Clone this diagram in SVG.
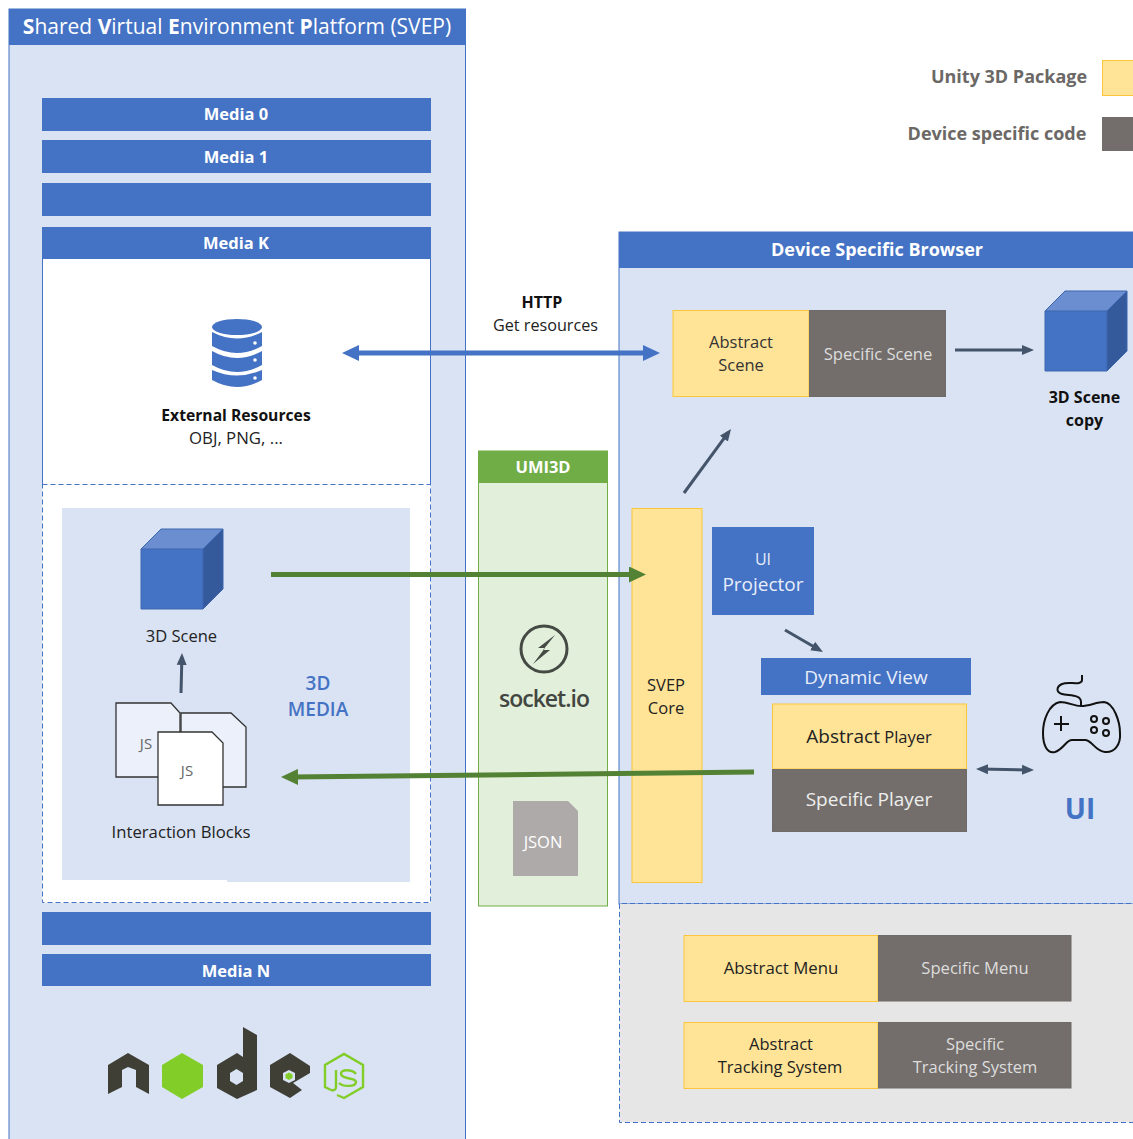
<svg xmlns="http://www.w3.org/2000/svg" width="1133" height="1139" viewBox="0 0 1133 1139">
<defs>
<style>
text{font-family:"Open Sans","Noto Sans","Liberation Sans",sans-serif;text-anchor:middle}
.w{fill:#fff}.d{fill:#222}.b{font-weight:700}.g{fill:#d9e3f3}
.blue{fill:#4472c4}.yel{fill:#ffe497;stroke:#fcc63a;stroke-width:1}.gry{fill:#736e6b;stroke:#6f6b68;stroke-width:1}
.dk{stroke:#44546a;stroke-width:3;fill:none}.gr{stroke:#548235;stroke-width:5;fill:none}
.doc{stroke:#333;stroke-width:1.3}
.dash{stroke:#4472c4;stroke-dasharray:5 3;fill:none}
</style>
<marker id="ad" markerUnits="userSpaceOnUse" markerWidth="14" markerHeight="12" refX="8" refY="6" orient="auto-start-reverse"><path d="M0 1L12 6L0 11Z" fill="#44546a"/></marker>
<marker id="ab" markerUnits="userSpaceOnUse" markerWidth="18" markerHeight="16" refX="7" refY="8" orient="auto-start-reverse"><path d="M0 0L17 8L0 16Z" fill="#4472c4"/></marker>
<marker id="ag" markerUnits="userSpaceOnUse" markerWidth="18" markerHeight="16" refX="7" refY="8" orient="auto-start-reverse"><path d="M0 0L17 8L0 16Z" fill="#548235"/></marker>
<g id="cube"><path d="M0 20L20 0H82V60L62 80H0Z" fill="#4472c4"/><path d="M0 20L20 0H82L62 20Z" fill="#6a8ecf"/><path d="M62 20L82 0V60L62 80Z" fill="#345a9c"/><path d="M0 20L20 0H82V60L62 80H0ZM0 20H62V80M62 20L82 0" fill="none" stroke="#3c66b0" stroke-width="1"/></g>
</defs>
<rect width="1133" height="1139" fill="#fff"/>

<g id="svep">
<rect x="9" y="9" width="456.500" height="1140" class="g" stroke="#4472c4"/>
<rect x="9" y="9" width="456.500" height="36" class="blue"/>
<text x="237" y="34" class="w" font-size="21">
<tspan font-weight="700">S</tspan>hared <tspan font-weight="700">V</tspan>irtual <tspan font-weight="700">E</tspan>nvironment <tspan font-weight="700">P</tspan>latform (SVEP)</text>
</g>
<g id="media-0"><rect x="42" y="98" width="389" height="33" class="blue"/><text x="236" y="120" class="w b" font-size="16.500">Media 0</text></g>
<g id="media-1"><rect x="42" y="140" width="389" height="33" class="blue"/><text x="236" y="163" class="w b" font-size="16.500">Media 1</text></g>
<g id="media-blank-1"><rect x="42" y="183" width="389" height="33" class="blue"/></g>
<g id="media-k">
<rect x="42" y="227" width="389" height="676" fill="#fff"/>
<path d="M42.500 259V484.500M430.500 259V484.500" stroke="#4472c4" fill="none"/>
<rect x="42" y="227" width="389" height="32" class="blue"/>
<text x="236" y="249" class="w b" font-size="16.500">Media K</text>
<path d="M42.500 484.500H430.500V902.500H42.500Z" class="dash"/>
</g>
<g id="external-resources">
<ellipse cx="237" cy="327" rx="25" ry="8" class="blue"/>
<path d="M212 332Q237 345 262 332V346Q237 360 212 346Z" class="blue"/>
<path d="M212 351Q237 365 262 351V365Q237 379 212 365Z" class="blue"/>
<path d="M212 370Q237 381 262 370V380Q237 394 212 380Z" class="blue"/>
<circle cx="255" cy="343" r="1.800" fill="#fff"/><circle cx="255" cy="360" r="1.800" fill="#fff"/><circle cx="255" cy="378" r="1.800" fill="#fff"/>
<text x="236" y="421" class="b" fill="#111" font-size="15.700">External Resources</text>
<text x="236" y="444" class="d" font-size="16.800">OBJ, PNG, ...</text>
</g>
<g id="media-3d">
<path d="M62 508H410V882H227V880H62Z" class="g"/>
<use href="#cube" x="141" y="529"/>
<text x="181.500" y="642" class="d" font-size="16.500">3D Scene</text>
<text x="318" y="690" fill="#4472c4" font-size="19" font-weight="600">3D</text>
<text x="318" y="716" fill="#4472c4" font-size="19" font-weight="600">MEDIA</text>
</g>
<g id="interaction-blocks">
<path d="M181 713H231L246 727V787H181Z" fill="#ebf0fa" class="doc"/>
<path d="M116 703H171L180 713V777H116Z" fill="#ebf0fa" class="doc"/>
<text x="146" y="749" fill="#666" font-size="15">JS</text>
<path d="M158 732H212L223 743V805H158Z" fill="#fff" class="doc"/>
<text x="187" y="776" fill="#666" font-size="15">JS</text>
<text x="181" y="838" class="d" font-size="16.700">Interaction Blocks</text>
</g>
<g id="media-blank-2"><rect x="42" y="912" width="389" height="33" class="blue"/></g>
<g id="media-n"><rect x="42" y="954" width="389" height="32" class="blue"/><text x="236" y="977" class="w b" font-size="16.500">Media N</text></g>
<g id="nodejs-logo">
<path d="M128 1053L108 1065V1094L122 1087V1070L128 1067L136 1070V1087L149 1094V1065Z" fill="#3f3f36"/>
<path d="M162 1065L182 1053L203 1065V1087L182 1099L162 1087Z" fill="#83cd29"/>
<path d="M243 1027L257 1035V1090L237 1099L217 1088V1065L237 1053L243 1057ZM236.500 1069L230 1073V1081L236.500 1085L243 1081V1073Z" fill="#3f3f36" fill-rule="evenodd"/>
<path d="M270 1065L290 1053L310 1066V1073L293 1083L302 1090L290 1098L270 1087Z" fill="#3f3f36"/>
<path d="M289 1070L295 1073V1080L289 1083L283 1080V1073Z" fill="#d9e3f3"/>
<path d="M289 1072.500L292.500 1074.500V1078L289 1080L285.500 1078V1074.500Z" fill="#83cd29"/>
<path d="M337 1095L344 1098L363 1087V1065L344 1054L325 1065V1087L331 1090" fill="none" stroke="#83cd29" stroke-width="2.400"/>
<path d="M336 1070V1087Q336 1091 331 1090M356 1074C352 1069 340 1069 341 1074C342 1080 356 1077 356 1082C356 1087 343 1087 339 1083" fill="none" stroke="#83cd29" stroke-width="2.400"/>
</g>

<g id="umi3d">
<rect x="478.500" y="451" width="129" height="455" fill="#e2efda" stroke="#70ad47"/>
<rect x="478" y="451" width="130" height="32" fill="#70ad47"/>
<text x="543" y="473" class="w b" font-size="16.500">UMI3D</text>
<circle cx="544" cy="649" r="23" fill="none" stroke="#454a45" stroke-width="3"/>
<path d="M555 635L538 648H545L533 664L550 650H543Z" fill="#454a45"/>
<text x="544" y="707" fill="#424641" font-size="23" font-weight="600" letter-spacing="-1">socket.io</text>
<path d="M513 801H568L578 811V876H513Z" fill="#aeaaaa"/>
<text x="543" y="848" class="w" font-size="16.500">JSON</text>
</g>

<g id="browser">
<rect x="619" y="232" width="520" height="672" class="g" stroke="#4472c4"/>
<rect x="619.500" y="904" width="520" height="218" fill="#e7e6e6"/>
<path d="M1139 903.500H619.500V1122.500H1139" class="dash"/>
<rect x="619" y="232" width="520" height="36" class="blue"/>
<text x="877" y="256" class="w b" font-size="18">Device Specific Browser</text>
</g>
<g id="abstract-scene"><rect x="673" y="310.500" width="136" height="86" class="yel"/><text x="741" y="348" fill="#333" font-size="16.500">Abstract</text><text x="741" y="371" fill="#333" font-size="16.500">Scene</text></g>
<g id="specific-scene"><rect x="809.500" y="310.500" width="136" height="86" class="gry"/><text x="878" y="360" fill="#ddd" font-size="16.600">Specific Scene</text></g>
<g id="scene-copy"><use href="#cube" x="1045" y="291"/><text x="1084.500" y="403" class="b" fill="#111" font-size="16">3D Scene</text><text x="1084.500" y="426" class="b" fill="#111" font-size="16">copy</text></g>
<g id="svep-core"><rect x="632" y="508.500" width="70" height="374" class="yel"/><text x="666" y="691" fill="#222" font-size="16.500">SVEP</text><text x="666" y="714" fill="#222" font-size="16.500">Core</text></g>
<g id="ui-projector"><rect x="712" y="527" width="102" height="88" class="blue"/><text x="763" y="565" fill="#e8eefa" font-size="16">UI</text><text x="763" y="591" fill="#e8eefa" font-size="19">Projector</text></g>
<g id="dynamic-view"><rect x="761" y="658" width="210" height="37" class="blue"/><text x="866" y="684" fill="#e8eefa" font-size="19">Dynamic View</text></g>
<g id="abstract-player"><rect x="772.500" y="704" width="194" height="65" class="yel"/><text x="869" y="743" fill="#222" font-size="16.500"><tspan font-size="19" font-weight="500">Abstract</tspan> Player</text></g>
<g id="specific-player"><rect x="772.500" y="769.500" width="194" height="62" class="gry"/><text x="869" y="806" fill="#eee" font-size="19">Specific Player</text></g>
<g id="gamepad">
<path d="M1082 675V680C1082 686 1068 681 1062 684C1056 687 1056 692 1062 694C1068 696 1081 694 1081 702V706" fill="none" stroke="#111" stroke-width="2"/>
<path d="M1081 706C1090 706 1096 702 1104 702C1114 703 1120 722 1120 733C1121 745 1114 753 1105 752C1095 751 1092 740 1085 740H1072C1066 740 1064 749 1055 752C1047 754 1043 745 1043 733C1043 720 1049 704 1060 702C1068 702 1074 706 1081 706Z" fill="none" stroke="#111" stroke-width="2"/>
<path d="M1061 716V731M1054 724H1069" stroke="#111" stroke-width="2" fill="none"/>
<g fill="none" stroke="#111" stroke-width="2"><circle cx="1094" cy="719" r="3"/><circle cx="1106" cy="721" r="3"/><circle cx="1094" cy="730" r="3"/><circle cx="1106" cy="733" r="3"/></g>
<text x="1080" y="819" fill="#4472c4" font-size="28" font-weight="700">UI</text>
</g>
<g id="abstract-menu"><rect x="684" y="935.500" width="194" height="66" class="yel"/><text x="781" y="974" fill="#222" font-size="16.800">Abstract Menu</text></g>
<g id="specific-menu"><rect x="878.500" y="935.500" width="192.500" height="65.500" class="gry"/><text x="975" y="974" fill="#ddd" font-size="16.600">Specific Menu</text></g>
<g id="abstract-tracking"><rect x="684" y="1022.500" width="194" height="66" class="yel"/><text x="781" y="1050" fill="#222" font-size="16.500">Abstract</text><text x="780" y="1073" fill="#222" font-size="16.500">Tracking System</text></g>
<g id="specific-tracking"><rect x="878.500" y="1022.500" width="192.500" height="65.500" class="gry"/><text x="975" y="1050" fill="#ddd" font-size="16.500">Specific</text><text x="975" y="1073" fill="#ddd" font-size="16.500">Tracking System</text></g>

<g id="legend">
<text x="1009" y="83" fill="#6b6866" class="b" font-size="18">Unity 3D Package</text>
<rect x="1102.500" y="60.500" width="40" height="35" class="yel"/>
<text x="997" y="140" fill="#6b6866" class="b" font-size="18">Device specific code</text>
<rect x="1102" y="117" width="40" height="34" fill="#736e6b"/>
</g>

<g id="connectors">
<path d="M352 353H650" stroke="#4472c4" stroke-width="5" fill="none" marker-start="url(#ab)" marker-end="url(#ab)"/>
<path d="M955 350H1030" class="dk" marker-end="url(#ad)"/>
<path d="M684 493L728.600 432.200" class="dk" marker-end="url(#ad)"/>
<path d="M785 630L819.500 650" class="dk" marker-end="url(#ad)"/>
<path d="M181 693L181.900 657" class="dk" marker-end="url(#ad)"/>
<path d="M980 769L1030 770" class="dk" marker-start="url(#ad)" marker-end="url(#ad)"/>
<path d="M271 574.500H636" class="gr" marker-end="url(#ag)"/>
<path d="M754 772L291 777" class="gr" marker-end="url(#ag)"/>
</g>
<g id="connector-labels">
<text x="542" y="308" class="b" fill="#111" font-size="16">HTTP</text>
<text x="545.500" y="331" class="d" font-size="16.200">Get resources</text>
</g>
</svg>
